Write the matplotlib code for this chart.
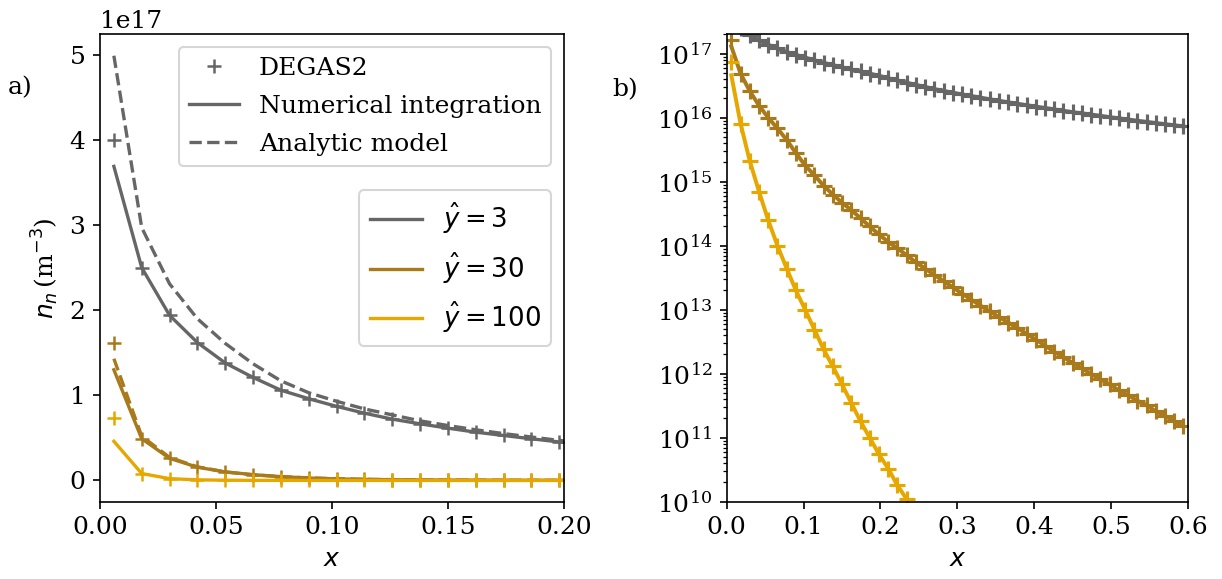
import matplotlib
matplotlib.use("Agg")
import matplotlib.pyplot as plt
from matplotlib.lines import Line2D
from matplotlib.ticker import LogLocator, NullFormatter

plt.rcParams["font.family"] = "serif"
plt.rcParams["mathtext.fontset"] = "dejavusans"
plt.rcParams["font.size"] = 12

# cell centres (m)
x = [0.006, 0.018, 0.030, 0.042, 0.054, 0.066, 0.078, 0.090, 0.102, 0.114,
     0.126, 0.138, 0.150, 0.162, 0.174, 0.186, 0.198, 0.210, 0.222, 0.234,
     0.246, 0.258, 0.270, 0.282, 0.294, 0.306, 0.318, 0.330, 0.342, 0.354,
     0.366, 0.378, 0.390, 0.402, 0.414, 0.426, 0.438, 0.450, 0.462, 0.474,
     0.486, 0.498, 0.510, 0.522, 0.534, 0.546, 0.558, 0.570, 0.582, 0.594]

# numerical integration, n_n in m^-3
num_3 = [3.69e17, 2.50e17, 1.94e17, 1.62e17, 1.38e17, 1.21e17, 1.06e17, 9.6e16, 8.7e16, 7.9e16,
         7.2e16, 6.65e16, 6.14e16, 5.67e16, 5.28e16, 4.89e16, 4.52e16, 4.15e16, 3.82e16, 3.52e16,
         3.26e16, 3.02e16, 2.81e16, 2.62e16, 2.46e16, 2.31e16, 2.18e16, 2.06e16, 1.94e16, 1.84e16,
         1.74e16, 1.65e16, 1.57e16, 1.49e16, 1.42e16, 1.35e16, 1.28e16, 1.22e16, 1.17e16, 1.12e16,
         1.07e16, 1.02e16, 9.78e15, 9.37e15, 8.97e15, 8.61e15, 8.25e15, 7.92e15, 7.61e15, 7.31e15]
num_30 = [1.30e17, 4.9e16, 2.6e16, 1.55e16, 1.0e16, 6.8e15, 4.5e15, 2.8e15, 1.8e15, 1.26e15,
          8.7e14, 6.3e14, 4.7e14, 3.6e14, 2.7e14, 2.0e14, 1.5e14, 1.15e14, 9.1e13, 7.1e13,
          5.5e13, 4.4e13, 3.5e13, 2.8e13, 2.24e13, 1.79e13, 1.44e13, 1.16e13, 9.4e12, 7.7e12,
          6.3e12, 5.2e12, 4.2e12, 3.4e12, 2.75e12, 2.2e12, 1.8e12, 1.48e12, 1.21e12, 9.95e11,
          8.2e11, 6.8e11, 5.5e11, 4.6e11, 3.8e11, 3.2e11, 2.6e11, 2.2e11, 1.8e11, 1.5e11]
num_100 = [4.6e16, 8.1e15, 2.1e15, 7.0e14, 2.5e14, 1.0e14, 4.4e13, 2.0e13, 1.0e13, 4.9e12,
           2.4e12, 1.3e12, 6.8e11, 3.5e11, 1.8e11, 1.0e11, 5.5e10, 3.3e10, 1.8e10, 1.1e10,
           6.2e9, 3.5e9, 2.0e9]

# DEGAS2: only the first cell differs visibly from the integration
degas_first_3 = 4.0e17
degas_first_30 = 1.62e17
degas_first_100 = 7.3e16
degas_3 = [degas_first_3] + num_3[1:]
degas_30 = [degas_first_30] + num_30[1:]
degas_100 = [degas_first_100] + num_100[1:]

# analytic model (near wall only)
ana_3 = [4.99e17, 2.97e17, 2.31e17, 1.90e17, 1.61e17, 1.37e17, 1.17e17, 1.03e17, 9.3e16,
         8.4e16, 7.7e16, 7.0e16, 6.45e16, 5.95e16, 5.5e16, 5.1e16, 4.7e16, 4.35e16]
ana_30 = [1.43e17, 5.2e16, 2.7e16, 1.6e16, 1.0e16, 6.5e15, 4.5e15, 3.0e15, 2.0e15,
          1.3e15, 9e14, 6e14, 4.5e14, 3.5e14, 2.6e14, 2e14, 1.5e14, 1.15e14]

labels = [r"$\hat{y} = 3$", r"$\hat{y} = 30$", r"$\hat{y} = 100$"]
colors = ["#666666", "#a97a1c", "#e6a700"]

nums = [num_3, num_30, num_100]
degas = [degas_3, degas_30, degas_100]
anas = [ana_3, ana_30, None]

fig = plt.figure(figsize=(1222 / 150, 579 / 150), dpi=150)
ax1 = fig.add_axes([0.0818, 0.1335, 0.3797, 0.807])
ax2 = fig.add_axes([0.5947, 0.1335, 0.3775, 0.807])

for n, d, a, c, lab in zip(nums, degas, anas, colors, labels):
    ax1.plot(x[:len(d)], d, "+", color=c, ms=7, mew=1.2)
    ax1.plot(x[:len(n)], n, "-", color=c, lw=1.6, label=lab)
    if a is not None:
        ax1.plot(x[:len(a)], a, "--", color=c, lw=1.6)

    ax2.plot(x[:len(d)], d, "+", color=c, ms=8, mew=1.5)
    ax2.plot(x[:len(n)], n, "-", color=c, lw=1.9)

ax1.set_xlim(0, 0.2)
ax1.set_ylim(-0.25e17, 5.24e17)
ax1.set_xticks([0, 0.05, 0.10, 0.15, 0.20])
ax1.set_xlabel("$x$")
ax1.set_ylabel(r"$n_n\,$(m$^{-3}$)")

style_handles = [
    Line2D([], [], color=colors[0], marker="+", linestyle="none", ms=7, mew=1.2),
    Line2D([], [], color=colors[0], linestyle="-", lw=1.6),
    Line2D([], [], color=colors[0], linestyle="--", lw=1.6),
]
leg1 = ax1.legend(style_handles, ["DEGAS2", "Numerical integration", "Analytic model"],
                  loc="upper right", labelspacing=0.6)
ax1.add_artist(leg1)
ax1.legend(loc="center right", labelspacing=0.55, prop={"size": 12.5})

ax2.set_yscale("log")
ax2.set_xlim(0, 0.6)
ax2.set_ylim(1e10, 2e17)
ax2.yaxis.set_major_locator(LogLocator(base=10, numticks=20))
ax2.yaxis.set_minor_locator(LogLocator(base=10, subs=range(2, 10), numticks=100))
ax2.yaxis.set_minor_formatter(NullFormatter())
ax2.set_xlabel("$x$")

fig.text(8 / 1222, 1 - 88 / 579, "a)", va="center", ha="left")
fig.text(612 / 1222, 1 - 90 / 579, "b)", va="center", ha="left")

fig.savefig("out.png", dpi=150)
